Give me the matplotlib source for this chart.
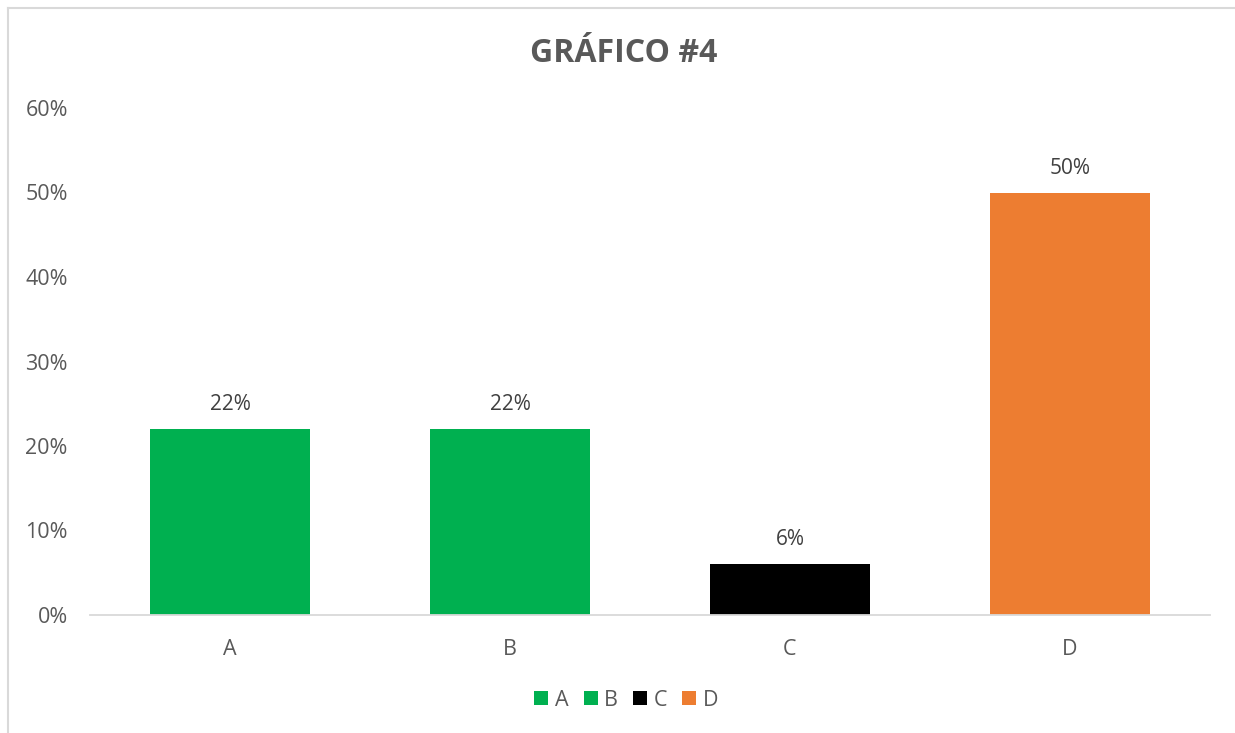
import matplotlib
matplotlib.use("Agg")
import matplotlib.pyplot as plt
from matplotlib.patches import Patch
from matplotlib.lines import Line2D
from matplotlib.ticker import FuncFormatter

categories = ["A", "B", "C", "D"]
values = [0.22, 0.22, 0.06, 0.50]
labels = ["22%", "22%", "6%", "50%"]
colors = ["#00b050", "#00b050", "#000000", "#ed7d31"]
yticks = [0.0, 0.1, 0.2, 0.3, 0.4, 0.5, 0.6]

text_color = "#595959"
plt.rcParams['font.family'] = ['Open Sans', 'DejaVu Sans']

fig = plt.figure(figsize=(12.35, 7.33), dpi=100)
ax = fig.add_axes([90 / 1235, 1 - 615 / 733, 1120 / 1235, (615 - 108) / 733])

x = list(range(len(categories)))
bars = ax.bar(x, values, width=0.571, color=colors, label=categories, zorder=2)

for b, lab in zip(bars, labels):
    ax.annotate(lab, (b.get_x() + b.get_width() / 2, b.get_height()),
                xytext=(0, 10), textcoords="offset points",
                ha="center", va="bottom", fontsize=15, color="#404040")

ax.set_xlim(-0.5, len(categories) - 0.5)
ax.set_ylim(0, 0.6)
ax.set_yticks(yticks)
ax.yaxis.set_major_formatter(FuncFormatter(lambda v, p: f"{v * 100:.0f}%"))
ax.set_xticks(x)
ax.set_xticklabels(categories)
ax.tick_params(axis="both", length=0, labelsize=15.5, colors=text_color)
ax.tick_params(axis="y", pad=16)
ax.tick_params(axis="x", pad=17)

for s in ["top", "right", "left"]:
    ax.spines[s].set_visible(False)
ax.spines["bottom"].set_color("#d9d9d9")
ax.spines["bottom"].set_linewidth(1.3)

fig.text(0.505, 1 - 54 / 733, "GRÁFICO #4", ha="center", va="center",
         fontsize=23, fontweight="bold", color=text_color)

handles = [Patch(facecolor=c, edgecolor="none") for c in colors]
fig.legend(handles, categories, loc="center", bbox_to_anchor=(0.507, 1 - 700 / 733),
           ncol=4, frameon=False, fontsize=15.5, labelcolor=text_color,
           handlelength=0.65, handleheight=0.65, handletextpad=0.3, columnspacing=0.7)

# chart border (left and top edges visible)
fig.add_artist(Line2D([8 / 1235, 8 / 1235], [0, 1 - 8 / 733], transform=fig.transFigure,
                      color="#d9d9d9", lw=1.5))
fig.add_artist(Line2D([8 / 1235, 1], [1 - 8 / 733, 1 - 8 / 733], transform=fig.transFigure,
                      color="#d9d9d9", lw=1.5))

fig.savefig("out.png", dpi=100)
